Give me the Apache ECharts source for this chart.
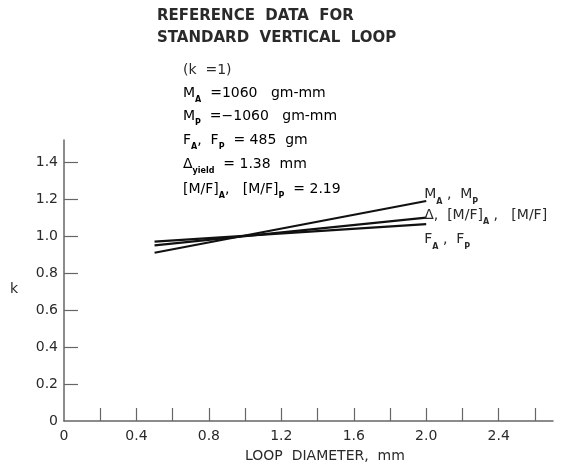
<!DOCTYPE html>
<html><head><meta charset="utf-8">
<script src="https://cdn.jsdelivr.net/npm/echarts@6/dist/echarts.min.js"></script>
<style>html,body{margin:0;padding:0;background:#fff}#c{width:562px;height:467px}</style>
</head><body><div id="c"></div>
<script>
// Data
const loopDiameter = [0.5, 2.0];
const kMoment = [0.91, 1.19];     // M_A, M_P
const kDelta = [0.95, 1.10];      // Δ, [M/F]_A, [M/F]_P
const kForce = [0.97, 1.065];     // F_A, F_P
const xTickLabels = [0, 0.4, 0.8, 1.2, 1.6, 2.0, 2.4];
const xTickMarks = [0.2, 0.4, 0.6, 0.8, 1.0, 1.2, 1.4, 1.6, 1.8, 2.0, 2.2, 2.4, 2.6];
const yTickLabels = [0, 0.2, 0.4, 0.6, 0.8, 1.0, 1.2, 1.4];
const yTickMarks = [0.2, 0.4, 0.6, 0.8, 1.0, 1.2, 1.4];

const FONT = 'DejaVu Sans';
const TXT = '#2a2a2a';
const pair = (xs, ys) => xs.map((x, i) => [x, ys[i]]);
const fmt = v => (Math.abs(v) < 1e-9 ? '0' : v.toFixed(1));

const rich = {
  n: {fontFamily: FONT, fontSize: 14, color: TXT, lineHeight: 17, verticalAlign: 'bottom'},
  s: {fontFamily: FONT, fontSize: 8, color: TXT, fontWeight: 'bold', lineHeight: 12, verticalAlign: 'bottom', padding: [0, 0, -4, 0]}
};

const chart = echarts.init(document.getElementById('c'), null, {renderer: 'canvas'});
const lineSeries = (name, ys, labelText, dy) => ({
  name, type: 'line', data: pair(loopDiameter, ys), symbol: 'none',
  lineStyle: {color: '#111', width: 2.2}, animation: false,
  endLabel: {show: true, formatter: labelText, rich, offset: [-2, dy], distance: 0}
});

chart.setOption({
  animation: false,
  grid: {left: 64, right: 9, top: 140, bottom: 46},
  xAxis: {
    type: 'value', min: 0, max: 2.7, interval: 0.2,
    axisLine: {lineStyle: {color: '#666', width: 1.5}},
    axisTick: {inside: true, length: 13, customValues: xTickMarks, lineStyle: {color: '#666', width: 1.2}},
    splitLine: {show: false},
    axisLabel: {fontFamily: FONT, fontSize: 14, color: TXT, margin: 8,
      customValues: xTickLabels, formatter: v => fmt(v)}
  },
  yAxis: {
    type: 'value', min: 0, max: 1.52, interval: 0.2,
    axisLine: {show: true, lineStyle: {color: '#666', width: 1.5}},
    axisTick: {show: true, inside: true, length: 14, customValues: yTickMarks, lineStyle: {color: '#666', width: 1.2}},
    splitLine: {show: false},
    axisLabel: {fontFamily: FONT, fontSize: 14, color: TXT, margin: 6,
      customValues: yTickLabels, formatter: v => fmt(v)}
  },
  series: [
    lineSeries('M', kMoment, '{n|M}{s|A}{n| ,  M}{s|P}', -8),
    lineSeries('Delta', kDelta, '{n|Δ,  [M/F]}{s|A}{n| ,   [M/F]}', -4),
    lineSeries('F', kForce, '{n|F}{s|A}{n| ,  F}{s|P}', 14)
  ],
  graphic: [
    {type: 'text', left: 157, top: 9, style: {text: 'REFERENCE  DATA  FOR', font: 'bold 15px ' + FONT, fill: TXT}},
    {type: 'text', left: 157, top: 31, style: {text: 'STANDARD  VERTICAL  LOOP', font: 'bold 15px ' + FONT, fill: TXT}},
    {type: 'text', left: 183, top: 63, style: {text: '(k  =1)', font: '14px ' + FONT, fill: TXT}},
    {type: 'text', left: 183, top: 86, style: {text: '{n|M}{s|A}{n|  =1060   gm-mm}', rich}},
    {type: 'text', left: 183, top: 109, style: {text: '{n|M}{s|P}{n|  =−1060   gm-mm}', rich}},
    {type: 'text', left: 183, top: 133, style: {text: '{n|F}{s|A}{n|,  F}{s|P}{n|  = 485  gm}', rich}},
    {type: 'text', left: 183, top: 157, style: {text: '{n|Δ}{s|yield}{n|  = 1.38  mm}', rich}},
    {type: 'text', left: 183, top: 182, style: {text: '{n|[M/F]}{s|A}{n|,   [M/F]}{s|P}{n|  = 2.19}', rich}},
    {type: 'text', left: 10, top: 282, style: {text: 'k', font: '14px ' + FONT, fill: TXT}},
    {type: 'text', left: 245, top: 449, style: {text: 'LOOP  DIAMETER,  mm', font: '14px ' + FONT, fill: TXT}}
  ]
});
</script></body></html>
